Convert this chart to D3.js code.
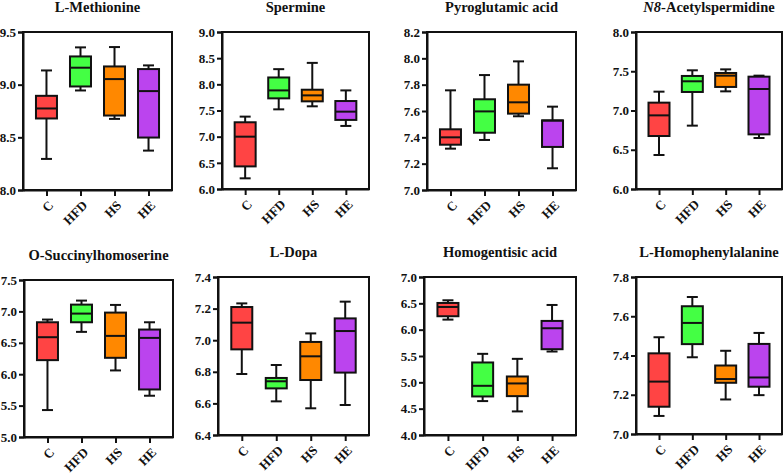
<!DOCTYPE html>
<html>
<head>
<meta charset="utf-8">
<script src="https://cdn.jsdelivr.net/npm/d3@7"></script>
<style>
  html, body { margin: 0; padding: 0; background: #fff; }
  svg { display: block; }
  text { font-family: "Liberation Serif", "Times New Roman", serif; font-weight: bold; fill: #111; }
</style>
</head>
<body>
<svg id="chart" width="784" height="474"></svg>
<script>
// ---------- data ----------
const groups = ["C", "HFD", "HS", "HE"];
const groupColors = ["#ff4444", "#44ff44", "#ff8800", "#bb44ee"];

const titles = ["L-Methionine", "Spermine", "Pyroglutamic acid", "N8-Acetylspermidine",
                "O-Succinylhomoserine", "L-Dopa", "Homogentisic acid", "L-Homophenylalanine"];

// each entry: [min, q1, median, q3, max] for C, HFD, HS, HE
const lMethionine = [[8.295, 8.679, 8.774, 8.894, 9.135], [8.945, 8.983, 9.161, 9.268, 9.354],
                     [8.675, 8.707, 9.053, 9.173, 9.357], [8.374, 8.498, 8.939, 9.148, 9.183]];
const spermine = [[6.204, 6.432, 7.0, 7.275, 7.383], [7.522, 7.732, 7.884, 8.131, 8.29],
                  [7.58, 7.675, 7.789, 7.897, 8.41], [7.205, 7.32, 7.478, 7.681, 7.884]];
const pyroglutamicAcid = [[7.314, 7.344, 7.4, 7.461, 7.757], [7.38, 7.435, 7.597, 7.689, 7.873],
                          [7.56, 7.58, 7.666, 7.8, 7.977], [7.165, 7.327, 7.527, 7.529, 7.633]];
const n8Acetylspermidine = [[6.433, 6.675, 6.938, 7.1, 7.24], [6.807, 7.236, 7.372, 7.44, 7.512],
                            [7.244, 7.3, 7.444, 7.478, 7.524], [6.65, 6.696, 7.274, 7.431, 7.444]];
const oSuccinylhomoserine = [[5.429, 6.224, 6.589, 6.827, 6.87], [6.674, 6.827, 6.965, 7.108, 7.172],
                             [6.06, 6.261, 6.61, 6.981, 7.103], [5.657, 5.757, 6.578, 6.711, 6.827]];
const lDopa = [[6.786, 6.942, 7.111, 7.21, 7.233], [6.613, 6.695, 6.74, 6.761, 6.843],
               [6.569, 6.748, 6.898, 6.989, 7.043], [6.59, 6.795, 7.058, 7.138, 7.244]];
const homogentisicAcid = [[6.191, 6.255, 6.431, 6.507, 6.558], [4.644, 4.732, 4.934, 5.377, 5.541],
                          [4.448, 4.738, 4.979, 5.111, 5.446], [5.585, 5.629, 6.027, 6.166, 6.469]];
const lHomophenylalanine = [[7.092, 7.139, 7.267, 7.411, 7.493], [7.391, 7.458, 7.566, 7.651, 7.698],
                            [7.176, 7.261, 7.28, 7.349, 7.424], [7.198, 7.241, 7.288, 7.459, 7.515]];

const seriesData = [lMethionine, spermine, pyroglutamicAcid, n8Acetylspermidine,
                    oSuccinylhomoserine, lDopa, homogentisicAcid, lHomophenylalanine];

const yTicks = [
  [8.0, 8.5, 9.0, 9.5],
  [6.0, 6.5, 7.0, 7.5, 8.0, 8.5, 9.0],
  [7.0, 7.2, 7.4, 7.6, 7.8, 8.0, 8.2],
  [6.0, 6.5, 7.0, 7.5, 8.0],
  [5.0, 5.5, 6.0, 6.5, 7.0, 7.5],
  [6.4, 6.6, 6.8, 7.0, 7.2, 7.4],
  [4.0, 4.5, 5.0, 5.5, 6.0, 6.5, 7.0],
  [7.0, 7.2, 7.4, 7.6, 7.8]
];

// ---------- layout (plot frames) ----------
const frames = [
  {x0: 23, x1: 172, y0: 32, y1: 190},
  {x0: 222, x1: 369, y0: 32, y1: 189},
  {x0: 427, x1: 576, y0: 32, y1: 190},
  {x0: 636, x1: 782, y0: 32, y1: 189},
  {x0: 24, x1: 173, y0: 280, y1: 437},
  {x0: 218, x1: 369, y0: 277, y1: 435},
  {x0: 424, x1: 576, y0: 277, y1: 435},
  {x0: 636, x1: 782, y0: 277, y1: 434}
];

const svg = d3.select("#chart");
const BOX_W = 21, CAP_W = 11;

frames.forEach((f, i) => {
  const ticks = yTicks[i];
  const y = d3.scaleLinear().domain([ticks[0], ticks[ticks.length - 1]]).range([f.y1, f.y0]);
  const x = d3.scalePoint().domain(groups).range([f.x0, f.x1]).padding(0.69);
  const g = svg.append("g");

  // title
  const t = g.append("text")
    .attr("x", (f.x0 + f.x1) / 2)
    .attr("y", f.y0 - 20)
    .attr("text-anchor", "middle")
    .style("font-size", "14.5px");
  const title = titles[i];
  if (title.startsWith("N8-")) {
    t.append("tspan").style("font-style", "italic").text("N8");
    t.append("tspan").text(title.slice(2));
  } else {
    t.text(title);
  }

  // frame
  g.append("rect")
    .attr("x", f.x0).attr("y", f.y0)
    .attr("width", f.x1 - f.x0).attr("height", f.y1 - f.y0)
    .attr("fill", "none").attr("stroke", "#111").attr("stroke-width", 2);

  // y axis
  const yAxis = d3.axisLeft(y).tickValues(ticks).tickFormat(d3.format(".1f")).tickSize(5).tickPadding(2);
  const ya = g.append("g").attr("transform", `translate(${f.x0},0)`).call(yAxis);
  ya.select(".domain").attr("stroke", "#111").attr("stroke-width", 2);
  ya.selectAll(".tick line").attr("stroke", "#111").attr("stroke-width", 2);
  ya.selectAll(".tick text").style("font-size", "13px").style("font-family", "Liberation Serif, serif")
    .style("font-weight", "bold").attr("fill", "#111");

  // x axis
  const xAxis = d3.axisBottom(x).tickSize(6).tickSizeOuter(0);
  const xa = g.append("g").attr("transform", `translate(0,${f.y1})`).call(xAxis);
  xa.select(".domain").attr("stroke", "#111").attr("stroke-width", 2);
  xa.selectAll(".tick line").attr("stroke", "#111").attr("stroke-width", 2);
  xa.selectAll(".tick text")
    .style("font-size", "13px").style("font-family", "Liberation Serif, serif")
    .style("font-weight", "bold").attr("fill", "#111")
    .attr("text-anchor", "end")
    .attr("x", 0).attr("y", 0).attr("dy", "0.35em")
    .attr("transform", "translate(4,13) rotate(-45)");

  // boxes
  const data = seriesData[i];
  groups.forEach((grp, j) => {
    const [mn, q1, med, q3, mx] = data[j];
    const cx = x(grp);
    const bg = g.append("g");
    bg.append("line").attr("x1", cx).attr("x2", cx).attr("y1", y(mx)).attr("y2", y(q3))
      .attr("stroke", "#111").attr("stroke-width", 2);
    bg.append("line").attr("x1", cx).attr("x2", cx).attr("y1", y(q1)).attr("y2", y(mn))
      .attr("stroke", "#111").attr("stroke-width", 2);
    bg.append("line").attr("x1", cx - CAP_W / 2).attr("x2", cx + CAP_W / 2).attr("y1", y(mx)).attr("y2", y(mx))
      .attr("stroke", "#111").attr("stroke-width", 2);
    bg.append("line").attr("x1", cx - CAP_W / 2).attr("x2", cx + CAP_W / 2).attr("y1", y(mn)).attr("y2", y(mn))
      .attr("stroke", "#111").attr("stroke-width", 2);
    bg.append("rect").attr("x", cx - BOX_W / 2).attr("y", y(q3))
      .attr("width", BOX_W).attr("height", y(q1) - y(q3))
      .attr("fill", groupColors[j]).attr("stroke", "#111").attr("stroke-width", 2);
    bg.append("line").attr("x1", cx - BOX_W / 2).attr("x2", cx + BOX_W / 2).attr("y1", y(med)).attr("y2", y(med))
      .attr("stroke", "#111").attr("stroke-width", 2);
  });
});
</script>
</body>
</html>
